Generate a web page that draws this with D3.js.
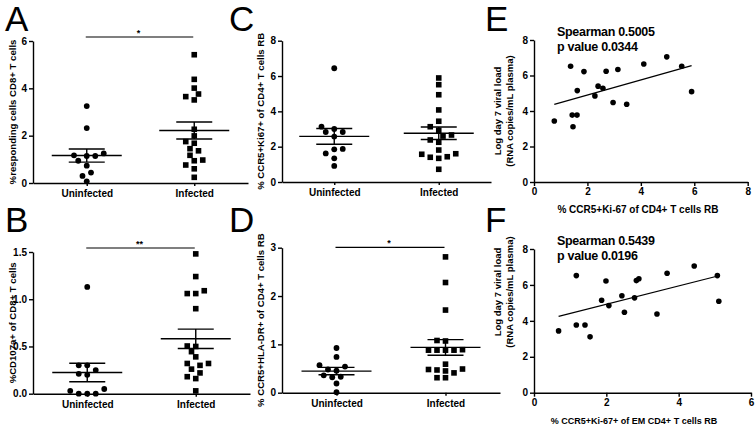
<!DOCTYPE html>
<html>
<head>
<meta charset="utf-8">
<script src="https://cdn.jsdelivr.net/npm/d3@7"></script>
<style>
  body { margin: 0; background: #fff; }
  svg { display: block; }
  text { font-family: "Liberation Sans", Arial, sans-serif; }
</style>
</head>
<body>
<svg id="fig" width="755" height="425"></svg>
<script>
const groups = ['Uninfected', 'Infected'];

// A: % responding CD8+ T cells
const respUninf = [3.25, 2.32, 1.25, 1.14, 0.94, 1.14, 1.17, 0.73, 0.44, 0.30, 0.07];
const respInf = [5.42, 4.38, 4.01, 3.76, 3.51, 3.65, 2.27, 1.99, 1.75, 1.68, 1.45, 1.36, 1.17, 0.97, 0.94, 0.76, 0.60, 0.24];
// B: %CD107a+ of CD8+
const cd107Uninf = [1.13, 0.30, 0.30, 0.25, 0.21, 0.20, 0.05, 0, 0, 0, 0.03];
const cd107Inf = [1.48, 1.24, 1.09, 1.06, 1.06, 0.90, 0.50, 0.505, 0.445, 0.39, 0.32, 0.30, 0.32, 0.26, 0.22, 0.18, 0.16, 0.03];
// C: CCR5+Ki67+ of CD4+
const ki67Uninf = [6.44, 3.13, 3.0, 2.83, 2.83, 2.57, 1.85, 1.87, 1.62, 1.34, 0.91];
const ki67Inf = [5.89, 5.51, 4.94, 4.08, 3.44, 3.13, 2.93, 2.60, 2.66, 2.38, 2.25, 1.81, 1.57, 1.60, 1.40, 1.43, 1.34, 0.72];
// D: CCR5+HLA-DR+ of CD4+
const hlaUninf = [0.925, 0.74, 0.54, 0.57, 0.455, 0.48, 0.36, 0.32, 0.33, 0.19, 0.01];
const hlaInf = [2.81, 2.28, 1.71, 1.08, 1.07, 0.89, 0.88, 0.88, 0.88, 0.88, 0.59, 0.47, 0.41, 0.49, 0.45, 0.48, 0.31, 0.31];

// E / F: viral load vs. CCR5+Ki-67 frequencies (same animals)
const viralLoad = [3.44, 6.52, 3.77, 3.77, 3.11, 5.15, 6.22, 4.85, 5.40, 5.28, 6.24, 4.48, 6.34, 4.38, 6.65, 7.05, 6.52, 5.09];
const ki67CD4 = [0.76, 1.37, 1.43, 1.61, 1.46, 1.62, 1.87, 2.28, 2.40, 2.58, 2.70, 2.96, 3.14, 3.47, 4.11, 4.97, 5.53, 5.90];
const ki67EM = [0.68, 1.17, 1.17, 1.41, 1.55, 1.87, 1.99, 2.07, 2.43, 2.78, 2.83, 2.50, 2.90, 3.40, 3.68, 4.43, 5.07, 5.11];

const svg = d3.select('#fig');
const FONT = '"Liberation Sans", Arial, sans-serif';

function styleAxis(sel) {
  sel.attr('font-family', FONT).attr('font-size', 10).attr('font-weight', 'bold');
  sel.selectAll('path, line').attr('stroke', '#000').attr('stroke-width', 1.4);
}

// spread points sideways like a prism scatter plot
function swarm(vals, y) {
  const pts = vals.map(v => ({ v, py: y(v) })).sort((a, b) => b.py - a.py);
  const placed = [];
  const step = 4.25;
  pts.forEach(p => {
    for (let k = 0; k < 60; k++) {
      const off = (k % 2 ? -1 : 1) * Math.ceil(k / 2) * step;
      if (placed.every(q => Math.hypot(q.dx - off, q.py - p.py) >= 6.6)) { p.dx = off; break; }
    }
    placed.push(p);
  });
  return pts;
}

function dotPanel(o) {
  const x = d3.scalePoint().domain(groups).range(o.xr).padding(0.5);
  const y = d3.scaleLinear().domain(o.dom).range(o.yr);
  const g = svg.append('g');

  g.append('g').attr('transform', `translate(${o.xr[0]},0)`)
    .call(d3.axisLeft(y).tickValues(o.ticks).tickFormat(o.fmt).tickSize(4).tickPadding(2).tickSizeOuter(0))
    .call(styleAxis);
  g.append('g').attr('transform', `translate(0,${o.yr[0]})`)
    .call(d3.axisBottom(x).tickSize(3).tickPadding(4).tickSizeOuter(0))
    .call(styleAxis);

  [o.a, o.b].forEach((vals, gi) => {
    const cx = x(groups[gi]);
    const pts = swarm(vals, y);
    if (gi === 0) {
      g.selectAll(null).data(pts).enter().append('circle')
        .attr('cx', d => cx + d.dx).attr('cy', d => d.py).attr('r', 2.9).attr('fill', '#000');
    } else {
      g.selectAll(null).data(pts).enter().append('rect')
        .attr('x', d => cx + d.dx - 2.8).attr('y', d => d.py - 2.8)
        .attr('width', 5.6).attr('height', 5.6).attr('fill', '#000');
    }
    const m = d3.mean(vals);
    const sem = d3.deviation(vals) / Math.sqrt(vals.length);
    const line = (x1, x2, y1, y2) => g.append('line')
      .attr('x1', x1).attr('x2', x2).attr('y1', y1).attr('y2', y2)
      .attr('stroke', '#000').attr('stroke-width', 1.4);
    line(cx - 35, cx + 35, y(m), y(m));
    line(cx - 18, cx + 18, y(m + sem), y(m + sem));
    line(cx - 18, cx + 18, y(m - sem), y(m - sem));
    line(cx, cx, y(m + sem), y(m - sem));
  });

  if (o.sig) {
    g.append('line').attr('x1', x(groups[0]) - 1).attr('x2', x(groups[1]) - 1)
      .attr('y1', o.sigY).attr('y2', o.sigY).attr('stroke', '#000').attr('stroke-width', 1.2);
    g.append('text').attr('x', (x(groups[0]) + x(groups[1])) / 2 - 2).attr('y', o.sigY - 1)
      .attr('text-anchor', 'middle').attr('font-size', 9).attr('font-weight', 'bold').text(o.sig);
  }

  g.append('text')
    .attr('transform', `translate(${o.labX},${(o.yr[0] + o.yr[1]) / 2}) rotate(-90)`)
    .attr('dy', '0.35em').attr('text-anchor', 'middle')
    .attr('font-size', 9.6).attr('font-weight', 'bold').text(o.ylabel);
}

function scatterPanel(o) {
  const x = d3.scaleLinear().domain(o.xdom).range(o.xr);
  const y = d3.scaleLinear().domain([0, 8]).range(o.yr);
  const g = svg.append('g');

  g.append('g').attr('transform', `translate(${o.xr[0]},0)`)
    .call(d3.axisLeft(y).tickValues([0, 2, 4, 6, 8]).tickFormat(d3.format('d')).tickSize(4).tickPadding(2).tickSizeOuter(0))
    .call(styleAxis);
  g.append('g').attr('transform', `translate(0,${o.yr[0]})`)
    .call(d3.axisBottom(x).tickValues(o.xticks).tickFormat(d3.format('d')).tickSize(4).tickPadding(2).tickSizeOuter(0))
    .call(styleAxis);

  const pts = o.xs.map((v, i) => [v, viralLoad[i]]);
  g.selectAll(null).data(pts).enter().append('circle')
    .attr('cx', d => x(d[0])).attr('cy', d => y(d[1])).attr('r', 2.8).attr('fill', '#000');

  // least-squares fit line
  const mx = d3.mean(o.xs), my = d3.mean(viralLoad);
  const sxy = d3.sum(pts, d => (d[0] - mx) * (d[1] - my));
  const sxx = d3.sum(o.xs, v => (v - mx) ** 2);
  const b = sxy / sxx, a = my - b * mx;
  const [x0, x1] = d3.extent(o.xs);
  g.append('line')
    .attr('x1', x(x0)).attr('y1', y(a + b * x0)).attr('x2', x(x1)).attr('y2', y(a + b * x1))
    .attr('stroke', '#000').attr('stroke-width', 1.2);

  o.stats.forEach((s, i) => {
    g.append('text').attr('x', 557).attr('y', o.yr[1] - 4 + i * 15)
      .attr('font-size', 12.5).attr('font-weight', 'bold').attr('letter-spacing', -0.3).text(s);
  });

  g.append('text').attr('x', o.xlabX).attr('y', o.yr[0] + 31)
    .attr('text-anchor', 'middle').attr('font-size', o.xlabSize).attr('font-weight', 'bold').text(o.xlabel);

  ['Log day 7 viral load', '(RNA copies/mL plasma)'].forEach((t, i) => {
    g.append('text')
      .attr('transform', `translate(${498 + i * 12},${o.labY}) rotate(-90)`)
      .attr('dy', '0.35em').attr('text-anchor', 'middle')
      .attr('font-size', 9.5).attr('font-weight', 'bold').text(t);
  });
}

dotPanel({ a: respUninf, b: respInf, xr: [33, 248], yr: [183, 41], dom: [0, 6], ticks: [0, 2, 4, 6],
  fmt: d3.format('d'), sig: '*', sigY: 37, labX: 13, ylabel: '%responding cells CD8+ T cells' });
dotPanel({ a: cd107Uninf, b: cd107Inf, xr: [33, 250], yr: [393.7, 252], dom: [0, 1.5], ticks: [0, 0.5, 1, 1.5],
  fmt: d3.format('.1f'), sig: '**', sigY: 248, labX: 13, ylabel: '%CD107a+ of CD8+ T cells' });
dotPanel({ a: ki67Uninf, b: ki67Inf, xr: [282, 491], yr: [182, 40.7], dom: [0, 8], ticks: [0, 2, 4, 6, 8],
  fmt: d3.format('d'), labX: 261, ylabel: '% CCR5+Ki67+ of CD4+ T cells RB' });
dotPanel({ a: hlaUninf, b: hlaInf, xr: [282, 500], yr: [392.7, 247.7], dom: [0, 3], ticks: [0, 1, 2, 3],
  fmt: d3.format('d'), sig: '*', sigY: 247.3, labX: 261, ylabel: '% CCR5+HLA-DR+ of CD4+ T cells RB' });

scatterPanel({ xs: ki67CD4, xdom: [0, 8], xticks: [0, 2, 4, 6, 8], xr: [534, 747.7], yr: [182, 40],
  stats: ['Spearman 0.5005', 'p value 0.0344'], labY: 111,
  xlabel: '% CCR5+Ki-67 of CD4+ T cells RB', xlabX: 638, xlabSize: 10 });
scatterPanel({ xs: ki67EM, xdom: [0, 6], xticks: [0, 2, 4, 6], xr: [534, 751], yr: [392.7, 249],
  stats: ['Spearman 0.5439', 'p value 0.0196'], labY: 292,
  xlabel: '% CCR5+Ki-67+ of EM CD4+ T cells RB', xlabX: 634, xlabSize: 9 });

// panel letters
[['A', 5, 31], ['B', 5, 232], ['C', 229, 31], ['D', 229, 232], ['E', 485, 31], ['F', 485, 232]].forEach(([t, x, y]) => {
  svg.append('text').attr('x', x).attr('y', y).attr('font-size', 35).text(t);
});
</script>
</body>
</html>
